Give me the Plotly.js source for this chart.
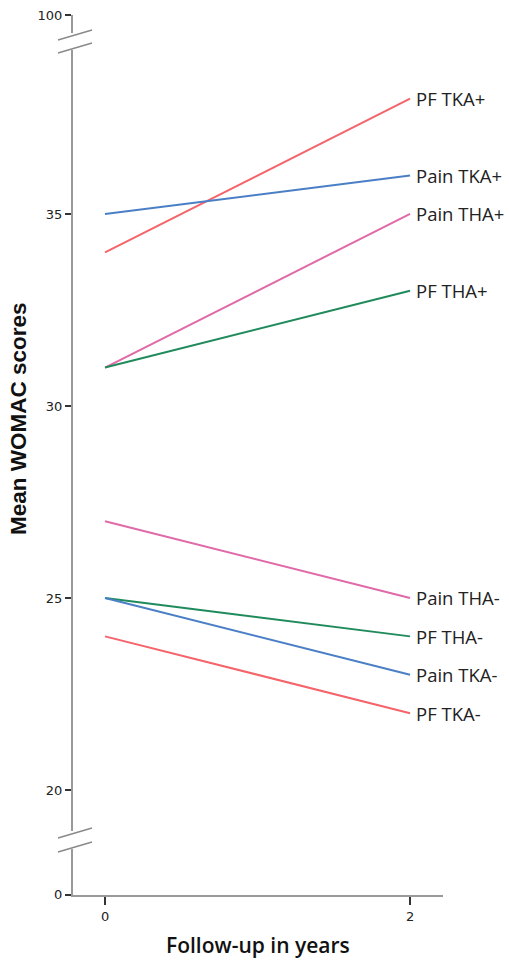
<!DOCTYPE html>
<html>
<head>
<meta charset="utf-8">
<script src="https://cdn.plot.ly/plotly-3.0.1.min.js"></script>
<style>html,body{margin:0;padding:0;background:#fff;}#chart{width:509px;height:962px;}</style>
</head>
<body>
<div id="chart"></div>
<script>
// Data
const years = [0, 2];
const seriesNames = ["PF TKA+", "Pain TKA+", "Pain THA+", "PF THA+", "Pain THA-", "PF THA-", "Pain TKA-", "PF TKA-"];
const pfTkaPlus   = [34, 38];
const painTkaPlus = [35, 36];
const painThaPlus = [31, 35];
const pfThaPlus   = [31, 33];
const painThaMinus = [27, 25];
const pfThaMinus   = [25, 24];
const painTkaMinus = [25, 23];
const pfTkaMinus   = [24, 22];
const seriesValues = [pfTkaPlus, painTkaPlus, painThaPlus, pfThaPlus, painThaMinus, pfThaMinus, painTkaMinus, pfTkaMinus];
const seriesColors = ["#f4646a", "#4a7fc6", "#e06aa8", "#1f8a5c", "#e06aa8", "#1f8a5c", "#4a7fc6", "#f4646a"];
// Broken axis: visible scale is 20..40; the "0" and "100" ticks sit beyond the breaks
const yTickVals = [17.27, 20, 25, 30, 35, 40.18];
const yTickText = ["0", "20", "25", "30", "35", "100"];
const xTickVals = [0, 2];
const xTickText = ["0", "2"];
const xTitle = "Follow-up in years";
const yTitle = "Mean WOMAC scores";

const traces = seriesNames.map((n, i) => ({
  x: years, y: seriesValues[i], type: "scatter", mode: "lines", name: n,
  line: {color: seriesColors[i], width: 2}, hoverinfo: "skip"
}));

const H = 962, W = 509;
const plotTop = 15, plotBot = 895, plotL = 73, plotR = 443;
function px(x){ return (x - plotL) / (plotR - plotL); }
function py(y){ return (plotBot - y) / (plotBot - plotTop); }

const annotations = seriesNames.map((n, i) => ({
  x: years[1], y: seriesValues[i][1], xref: "x", yref: "y", text: n,
  showarrow: false, xanchor: "left", yanchor: "middle", xshift: 4,
  font: {family: "Open Sans, Noto Sans, sans-serif", size: 18.5, color: "#222"}
}));
annotations.push({
  x: px(258), y: py(945), xref: "paper", yref: "paper", text: xTitle, showarrow: false,
  xanchor: "center", yanchor: "middle",
  font: {family: "Open Sans, Noto Sans, sans-serif", size: 21, color: "#111", weight: 600}
});
annotations.push({
  x: px(18), y: py(419), xref: "paper", yref: "paper", text: yTitle, showarrow: false,
  xanchor: "center", yanchor: "middle", textangle: -90,
  font: {family: "Liberation Sans, Arial, sans-serif", size: 22.5, color: "#111", weight: 700}
});

const shapes = [];
function addBreak(y1, y2){
  shapes.push({type: "rect", xref: "paper", yref: "paper", x0: px(70), x1: px(77), y0: py(y2 + 2), y1: py(y1 - 2),
    line: {width: 0}, fillcolor: "#ffffff", layer: "above"});
  shapes.push({type: "line", xref: "paper", yref: "paper", x0: px(58), y0: py(y1 + 5), x1: px(92), y1: py(y1 - 5),
    line: {color: "#8a8a8a", width: 1.5}, layer: "above"});
  shapes.push({type: "line", xref: "paper", yref: "paper", x0: px(58), y0: py(y2 + 5), x1: px(92), y1: py(y2 - 5),
    line: {color: "#8a8a8a", width: 1.5}, layer: "above"});
}
addBreak(35, 48);
addBreak(833, 847);

const layout = {
  width: W, height: H,
  margin: {l: plotL, r: W - plotR, t: plotTop, b: H - plotBot},
  paper_bgcolor: "#fff", plot_bgcolor: "#fff",
  showlegend: false,
  xaxis: {
    range: [-0.21, 2.216], tickvals: xTickVals, ticktext: xTickText,
    showgrid: false, zeroline: false, showline: true, linecolor: "#999", linewidth: 2,
    ticks: "outside", ticklen: 8, tickwidth: 2, tickcolor: "#333",
    tickfont: {family: "DejaVu Sans, sans-serif", size: 13, color: "#222"}
  },
  yaxis: {
    range: [17.266, 40.18], tickvals: yTickVals, ticktext: yTickText,
    showgrid: false, zeroline: false, showline: true, linecolor: "#999", linewidth: 2,
    ticks: "outside", ticklen: 6, tickwidth: 2, tickcolor: "#333",
    tickfont: {family: "DejaVu Sans, sans-serif", size: 13, color: "#222"}
  },
  annotations: annotations,
  shapes: shapes
};

Plotly.newPlot("chart", traces, layout, {displayModeBar: false, staticPlot: true});
</script>
</body>
</html>
